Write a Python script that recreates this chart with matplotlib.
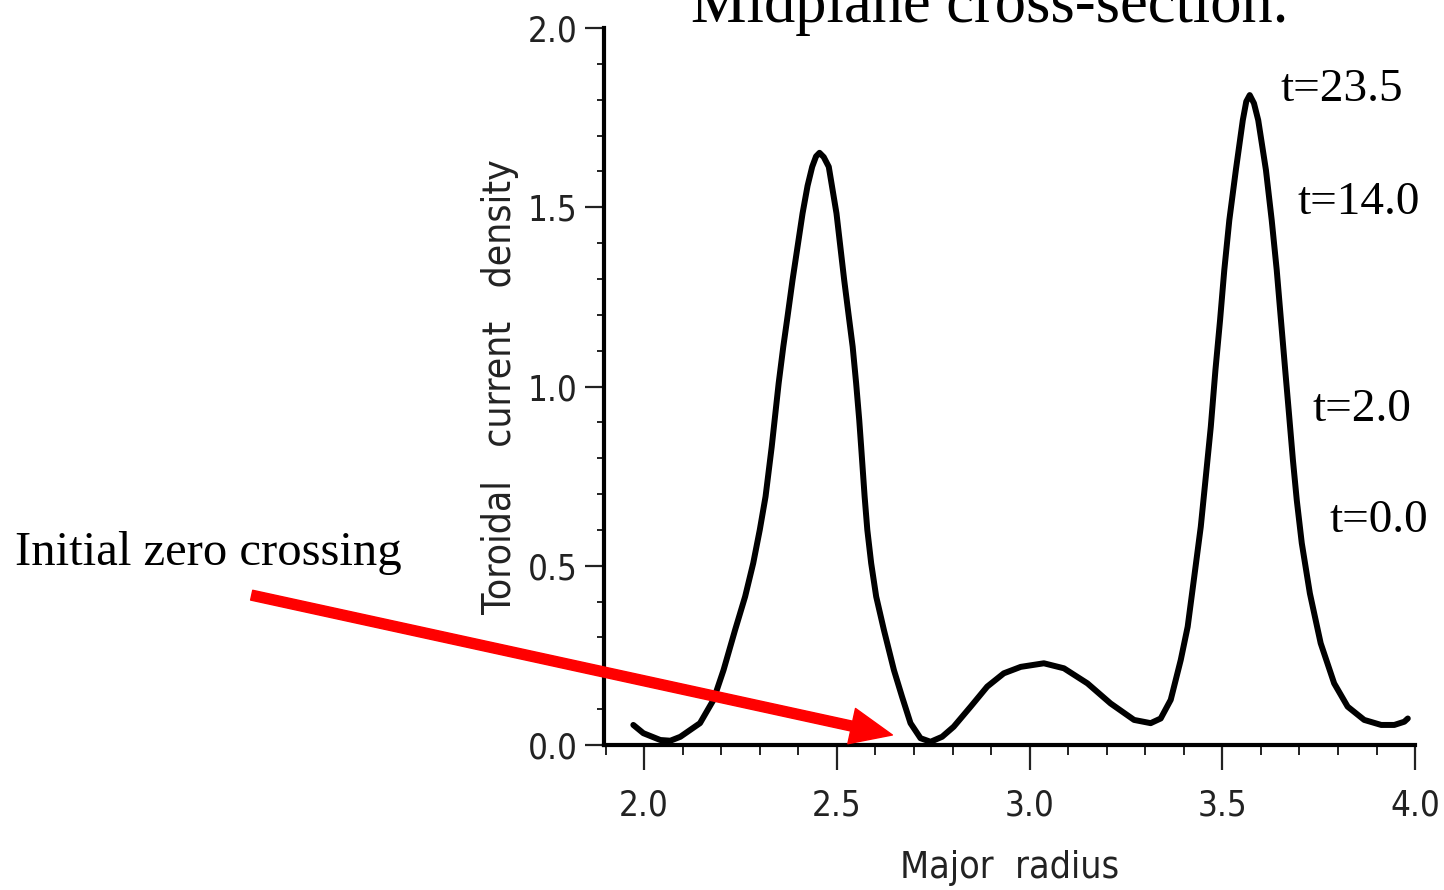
import matplotlib
matplotlib.use("Agg")
import matplotlib.pyplot as plt

# toroidal current density along the midplane
radius = [1.972, 1.998, 2.042, 2.068, 2.094, 2.145, 2.180, 2.206, 2.236, 2.262,
          2.283, 2.300, 2.315, 2.331, 2.349, 2.361, 2.372, 2.385, 2.398, 2.411,
          2.424, 2.436, 2.446, 2.455, 2.466, 2.479, 2.499, 2.509, 2.519, 2.531,
          2.541, 2.550, 2.558, 2.563, 2.572, 2.579, 2.589, 2.602, 2.622, 2.648,
          2.669, 2.691, 2.717, 2.743, 2.773, 2.803, 2.847, 2.890, 2.933, 2.977,
          3.037, 3.089, 3.150, 3.210, 3.271, 3.314, 3.340, 3.366, 3.392, 3.410,
          3.427, 3.444, 3.457, 3.470, 3.482, 3.494, 3.505, 3.518, 3.535, 3.553,
          3.562, 3.571, 3.582, 3.593, 3.613, 3.628, 3.641, 3.652, 3.663, 3.672,
          3.683, 3.693, 3.706, 3.727, 3.755, 3.790, 3.825, 3.868, 3.912, 3.946,
          3.972, 3.981]
current = [0.056, 0.033, 0.014, 0.012, 0.023, 0.061, 0.126, 0.209, 0.321, 0.414,
           0.507, 0.600, 0.693, 0.832, 1.009, 1.111, 1.195, 1.297, 1.390, 1.483,
           1.560, 1.613, 1.642, 1.652, 1.640, 1.613, 1.483, 1.390, 1.297, 1.195,
           1.111, 1.009, 0.907, 0.832, 0.693, 0.600, 0.507, 0.414, 0.321, 0.209,
           0.135, 0.061, 0.019, 0.009, 0.023, 0.051, 0.107, 0.163, 0.200, 0.218,
           0.228, 0.214, 0.172, 0.116, 0.070, 0.061, 0.074, 0.126, 0.237, 0.330,
           0.469, 0.609, 0.748, 0.888, 1.046, 1.185, 1.325, 1.464, 1.604, 1.743,
           1.795, 1.813, 1.790, 1.743, 1.604, 1.464, 1.325, 1.185, 1.046, 0.934,
           0.795, 0.683, 0.563, 0.423, 0.284, 0.172, 0.107, 0.070, 0.056, 0.056,
           0.065, 0.074]

time_labels = ["t=23.5", "t=14.0", "t=2.0", "t=0.0"]
time_label_pos = [(3.652, 1.827), (3.694, 1.512), (3.735, 0.934), (3.779, 0.625)]

serif = ["Liberation Serif", "DejaVu Serif"]
sans = ["DejaVu Sans"]
ink = "#222222"

fig = plt.figure(figsize=(14.44, 8.90), dpi=100)
ax = fig.add_axes([0.4183, 0.1629, 0.5617, 0.8056])

ax.plot(radius, current, color="black", lw=4.3, solid_capstyle="round", solid_joinstyle="round")

ax.set_xlim(1.896, 4.0)
ax.set_ylim(0, 2.0)
ax.spines[["top", "right"]].set_visible(False)
for s in ["left", "bottom"]:
    ax.spines[s].set_linewidth(3.0)

ax.set_xticks([2.0, 2.5, 3.0, 3.5, 4.0])
ax.set_xticks([1.9 + 0.1 * i for i in range(21)], minor=True)
ax.set_yticks([0.0, 0.5, 1.0, 1.5, 2.0])
ax.set_yticks([0.1 * i for i in range(21)], minor=True)
ax.set_xticklabels(["2.0", "2.5", "3.0", "3.5", "4.0"], family=sans, stretch="condensed", fontsize=25)
ax.set_yticklabels(["0.0", "0.5", "1.0", "1.5", "2.0"], family=sans, stretch="condensed", fontsize=25)
ax.tick_params(axis="x", which="major", direction="out", length=18, width=1.6, pad=13, colors=ink)
ax.tick_params(axis="x", which="minor", direction="out", length=7, width=1.4, colors=ink)
ax.tick_params(axis="y", which="major", direction="out", length=14, width=1.6, pad=5, colors=ink)
ax.tick_params(axis="y", which="minor", direction="out", length=5, width=1.4, colors=ink)

ax.set_xlabel("Major  radius", family=sans, stretch="condensed", fontsize=27, color=ink, labelpad=20)
ax.set_ylabel("Toroidal   current   density", family=sans, stretch="condensed", fontsize=28,
              color=ink, labelpad=6)

fig.text(0.6856, 0.9753, "Midplane cross-section.", family=serif, fontsize=45,
         ha="center", va="baseline")

for lab, (tx, ty) in zip(time_labels, time_label_pos):
    ax.text(tx, ty, lab, family=serif, fontsize=34, ha="left", va="center", clip_on=False)

fig.text(0.0104, 0.3787, "Initial zero crossing", family=serif, fontsize=35,
         ha="left", va="center")

ax.annotate("", xy=(2.644, 0.028), xytext=(0.982, 0.418),
            xycoords="data", textcoords="data", annotation_clip=False,
            arrowprops=dict(color="#ff0000", width=7.2, headwidth=26, headlength=30, shrink=0))

fig.savefig("out.png", dpi=100)
